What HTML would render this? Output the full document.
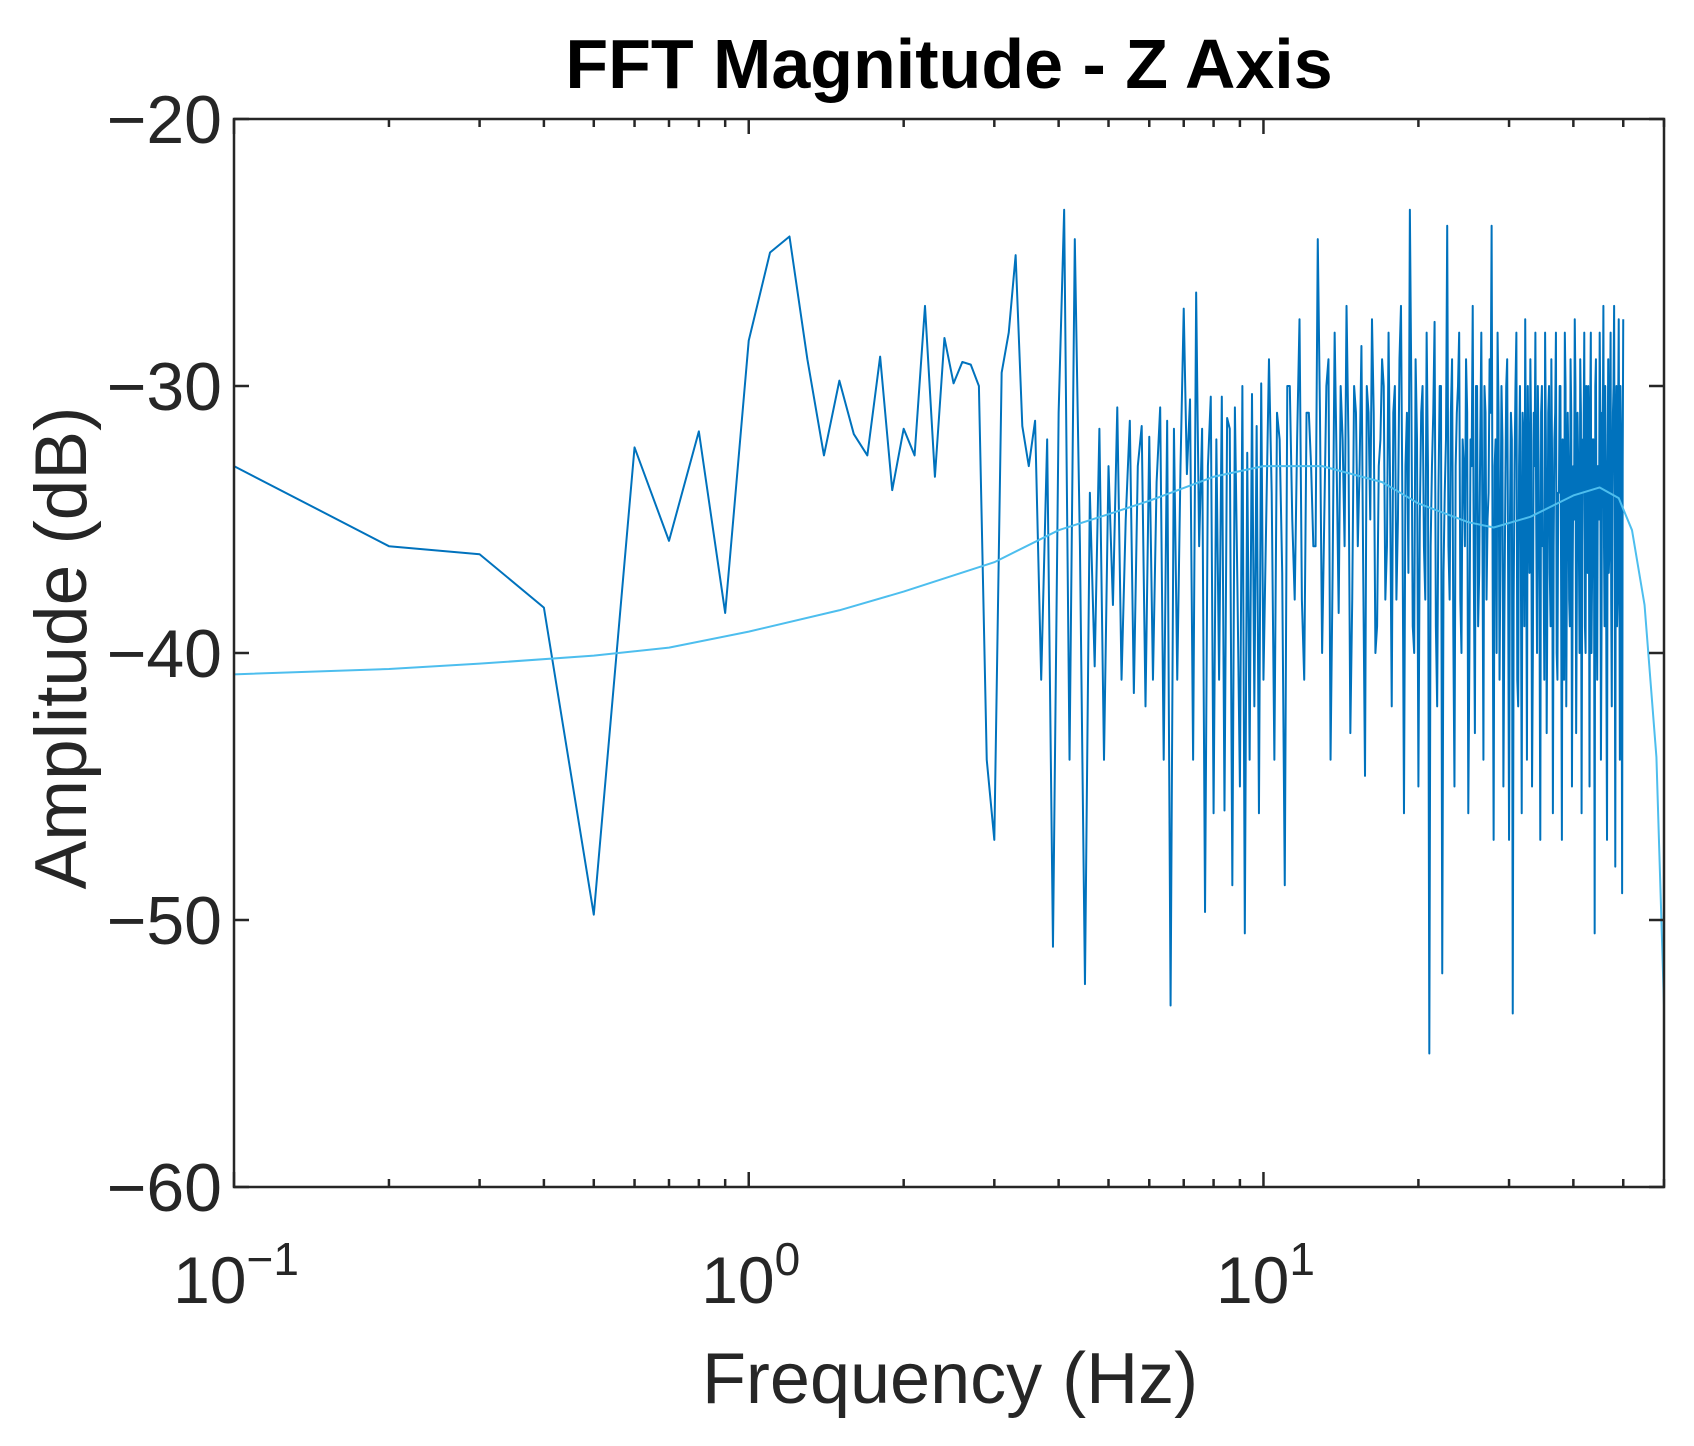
<!DOCTYPE html>
<html><head><meta charset="utf-8"><style>
html,body{margin:0;padding:0;background:#fff;}
svg{display:block;font-family:"Liberation Sans",Arial,sans-serif;}
</style></head><body>
<svg id="chart" width="1694" height="1446" viewBox="0 0 1694 1446" xmlns="http://www.w3.org/2000/svg">
<rect width="1694" height="1446" fill="#fff"/>
<text x="949" y="88" text-anchor="middle" font-size="70" font-weight="bold" fill="#000">FFT Magnitude - Z Axis</text>
<g id="plot"></g>
<text transform="translate(86,648) rotate(-90)" text-anchor="middle" font-size="73" fill="#262626">Amplitude (dB)</text>
<text x="950" y="1403" text-anchor="middle" font-size="72" fill="#262626">Frequency (Hz)</text>
</svg>
<script>
const yTicks = [-20, -30, -40, -50, -60];
const xMajorTicks = [0.1, 1, 10];
const xTickExp = ["\u22121", "0", "1"];
const lowStep = 0.1;
const lowValues = [-33,-36,-36.3,-38.3,-49.8,-32.3,-35.8,-31.7,-38.5,-28.3,
-25,-24.4,-29,-32.6,-29.8,-31.8,-32.6,-28.9,-33.9,-31.6,
-32.6,-27,-33.4,-28.2,-29.9,-29.1,-29.2,-30,-44,-47,
-29.5,-28,-25.1,-31.5,-33,-31.3,-41,-32,-51,-31,
-23.4,-44,-24.5,-36,-52.4,-34,-40.5,-31.6,-44,-33,
-38.2,-30.8,-41,-35,-31.3,-41.5,-33,-31.5,-42,-31.9,
-41,-33.6,-30.8,-44,-31.3,-53.2,-31.6,-41,-33,-27.1,
-33.3,-30.5,-44,-26.5,-36,-31.6,-49.7,-33,-30.4,-46,
-32,-41,-30.4,-45.9,-31.2,-31.6,-48.7,-30.8,-37.5,-45,
-30,-50.5,-32.5,-44,-30.3,-42,-31.5,-46,-29.9,-41];
const highStart = 10.25;
const highStep = 0.25;
const highValues = [-29,-44,-32,-48.7,-30,-38,-27.5,-41,-31,-36,
-24.5,-40,-30,-44,-28,-38.5,-32,-27,-43,-30,
-36,-28.5,-44.6,-31,-27.5,-40,-33,-29,-38,-28,
-42,-30,-35,-27,-46,-31,-23.4,-39,-29,-45,
-31,-36,-28,-55,-33,-27.6,-42,-30,-52,-34,
-24,-38,-29,-45,-31,-28,-40,-33,-29,-46,
-32,-27,-43,-30,-37,-28,-44,-31,-35,-29,
-24,-47,-32,-28,-41,-30,-45,-34,-29,-47,
-31,-53.5,-33,-28,-42,-30,-46,-32,-27.5,-44,
-34,-29,-45,-31,-28,-40,-33,-47,-30,-36,
-28,-43,-31,-37,-29,-46,-32,-28,-41,-34,
-30,-47,-33,-28,-42,-31,-38,-29,-45,-33,
-27.5,-43,-31,-36,-29,-46,-32,-28,-40,-34,
-30,-45,-28,-37,-32,-50.5,-29,-41,-33,-28,
-44,-31,-27,-39,-34,-47,-29,-36,-28,-42,
-31,-27,-48,-30,-38,-27.5,-44,-32,-49,-27.5];
// interleaved bins at highStart + 0.125 + i*highStep
const highValuesMid = [-34,-31,-37,-30,-35,-32,-38,-31,-33,-36,
-31,-35,-29,-37,-33,-30,-36,-32,-38,-31,
-33,-37,-30,-35,-31,-39,-32,-30,-36,-34,
-31,-38,-29,-35,-33,-37,-30,-40,-32,-35,
-30,-38,-33,-36,-31,-39,-34,-30,-37,-32,
-36,-31,-39,-33,-30,-38,-32,-36,-31,-40,
-33,-37,-30,-39,-32,-35,-30,-38,-34,-31,
-37,-33,-40,-31,-36,-32,-39,-30,-37,-35,
-32,-38,-30,-41,-33,-36,-31,-39,-34,-30,
-37,-32,-40,-33,-35,-30,-38,-31,-36,-41,
-32,-37,-30,-39,-33,-36,-31,-40,-34,-30,
-38,-32,-41,-30,-36,-33,-39,-31,-37,-35,
-30,-38,-33,-40,-31,-36,-32,-39,-30,-37,
-34,-31,-40,-32,-36,-30,-38,-33,-35,-31,
-39,-32,-36,-30,-41,-33,-37,-31,-38,-34,
-30,-36,-32,-39,-31,-35,-30,-37,-33,-36];
const smoothFreq = [0.1,0.2,0.3,0.5,0.7,1,1.5,2,3,4,5,6,8,10,13,17,20,25,28,33,40,45,49,52,55,58,60];
const smoothValues = [-40.8,-40.6,-40.4,-40.1,-39.8,-39.2,-38.4,-37.7,-36.6,-35.4,-34.8,-34.3,-33.4,-33,-33,-33.6,-34.4,-35.1,-35.3,-34.9,-34.1,-33.8,-34.2,-35.4,-38.2,-43.9,-53.2];

const L=234,R=1664,T=119,B=1187,XMIN=0.1,XMAX=60,YMIN=-60,YMAX=-20;
const ns="http://www.w3.org/2000/svg";
function xs(f){return L+(Math.log10(f)-Math.log10(XMIN))/(Math.log10(XMAX)-Math.log10(XMIN))*(R-L);}
function ys(v){return B-(v-YMIN)/(YMAX-YMIN)*(B-T);}
const plot=document.getElementById('plot');
function mk(tag,attrs,parent){const e=document.createElementNS(ns,tag);for(const k in attrs)e.setAttribute(k,attrs[k]);(parent||plot).appendChild(e);return e;}

const defs=mk('defs',{});
const cp=mk('clipPath',{id:'clip'},defs);
mk('rect',{x:L,y:T,width:R-L,height:B-T},cp);

let pts=[];
lowValues.forEach((v,i)=>{const f=(i+1)*lowStep;pts.push(xs(f).toFixed(2)+','+ys(v).toFixed(2));});
highValues.forEach((v,i)=>{
  const f=highStart+i*highStep;
  pts.push(xs(f).toFixed(2)+','+ys(v).toFixed(2));
  if(i<highValuesMid.length-1||i===highValues.length-1){
    if(i<highValues.length-1){const f2=f+highStep/2;pts.push(xs(f2).toFixed(2)+','+ys(highValuesMid[i]).toFixed(2));}
  }
});
const fft=mk('polyline',{points:pts.join(' '),fill:'none',stroke:'#0072BD','stroke-width':2,'stroke-linejoin':'round','clip-path':'url(#clip)'});


const sp=smoothFreq.map((f,i)=>xs(f).toFixed(2)+','+ys(smoothValues[i]).toFixed(2));
const sm=mk('polyline',{points:sp.join(' '),fill:'none',stroke:'#4DBEEE','stroke-width':2,'stroke-linejoin':'round','clip-path':'url(#clip)'});



const box=mk('rect',{x:L,y:T,width:R-L,height:B-T,fill:'none',stroke:'#262626','stroke-width':2.5});



yTicks.forEach(v=>{
  const y=ys(v);
  mk('line',{x1:L,x2:L+15,y1:y,y2:y,stroke:'#262626','stroke-width':2.5});
  mk('line',{x1:R,x2:R-15,y1:y,y2:y,stroke:'#262626','stroke-width':2.5});
  const t=mk('text',{x:L-12,y:y+24,'text-anchor':'end','font-size':68,fill:'#262626'});
  t.textContent=String(v).replace('-','\u2212');
  
  
});
for(let d=-1;d<=1;d++){
  for(let m=1;m<=9;m++){
    const f=m*Math.pow(10,d);
    if(f<XMIN||f>XMAX)continue;
    const len=m===1?15:8;
    const x=xs(f);
    mk('line',{x1:x,x2:x,y1:B,y2:B-len,stroke:'#262626','stroke-width':2.5});
    mk('line',{x1:x,x2:x,y1:T,y2:T+len,stroke:'#262626','stroke-width':2.5});
  }
}
xMajorTicks.forEach((f,i)=>{
  const x=xs(f);
  const t=mk('text',{x:x+2,y:1303,'text-anchor':'middle','font-size':66,fill:'#262626'});
  
  
  const a=document.createElementNS(ns,'tspan');a.textContent='10';t.appendChild(a);
  const b=document.createElementNS(ns,'tspan');b.setAttribute('dy','-28');b.setAttribute('font-size','46');b.textContent=xTickExp[i];t.appendChild(b);
});
</script>
</body></html>
